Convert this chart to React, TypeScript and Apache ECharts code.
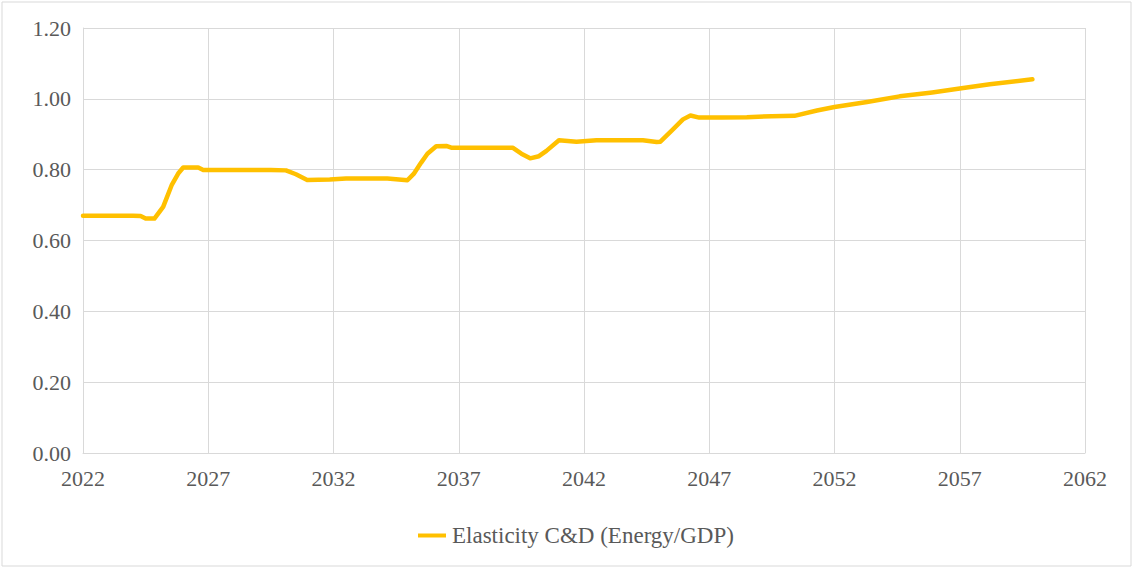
import React, { useEffect, useRef } from "react";
import * as echarts from "echarts";

const years = [
  2022, 2023, 2024, 2024.3, 2024.5, 2024.85, 2025.2, 2025.55, 2025.8, 2026.0,
  2026.6, 2026.8, 2027.5, 2028.5, 2029.5, 2030.1, 2030.5, 2030.95, 2031.85,
  2032.5, 2033.5, 2034.15, 2034.95, 2035.2, 2035.5, 2035.75, 2036.1, 2036.5,
  2036.7, 2037.5, 2038.5, 2039.15, 2039.5, 2039.85, 2040.2, 2040.5, 2041.0,
  2041.7, 2042.5, 2043.5, 2044.35, 2044.9, 2045.05, 2045.5, 2045.95, 2046.25,
  2046.6, 2047.5, 2048.5, 2049.5, 2050.4, 2051.3, 2052.0, 2053.3, 2054.6,
  2055.9, 2057.0, 2058.2, 2059.9,
];
const elasticity = [
  0.67, 0.67, 0.67, 0.669, 0.662, 0.662, 0.695, 0.758, 0.789, 0.806,
  0.806, 0.799, 0.799, 0.799, 0.799, 0.798, 0.787, 0.771, 0.772,
  0.775, 0.775, 0.775, 0.77, 0.788, 0.82, 0.845, 0.866, 0.867,
  0.862, 0.862, 0.862, 0.862, 0.845, 0.832, 0.838, 0.853, 0.883,
  0.879, 0.883, 0.883, 0.883, 0.878, 0.879, 0.91, 0.942, 0.953,
  0.947, 0.947, 0.948, 0.951, 0.952, 0.967, 0.977, 0.991, 1.007,
  1.018, 1.029, 1.041, 1.055,
];
const seriesName = "Elasticity C&D (Energy/GDP)";
const yTicks = ["0.00", "0.20", "0.40", "0.60", "0.80", "1.00", "1.20"];

const FONT = "'Liberation Serif', 'DejaVu Serif', 'Times New Roman', serif";
const TEXT = "#595959";

export default function App() {
  const ref = useRef<HTMLDivElement>(null);
  useEffect(() => {
    const chart = echarts.init(ref.current!, undefined, { renderer: "svg" });
    chart.setOption({
      animation: false,
      backgroundColor: "#fff",
      textStyle: { fontFamily: FONT },
      grid: { left: 83, right: 49, top: 28, bottom: 116 },
      graphic: [
        {
          type: "rect",
          shape: { x: 2, y: 2, width: 1129, height: 564 },
          style: { fill: "none", stroke: "#d9d9d9", lineWidth: 1 },
          silent: true,
        },
      ],
      legend: {
        data: [seriesName],
        left: 418,
        top: 524,
        padding: 0,
        itemWidth: 28,
        itemHeight: 4,
        itemGap: 6,
        icon: "rect",
        textStyle: { fontFamily: FONT, fontSize: 23, color: TEXT, padding: [0, 0, 0, 1] },
      },
      xAxis: {
        type: "value",
        min: 2022,
        max: 2062,
        interval: 5,
        axisLine: { show: true, lineStyle: { color: "#d9d9d9", width: 1 } },
        axisTick: { show: false },
        splitLine: { show: true, lineStyle: { color: "#d9d9d9", width: 1 } },
        axisLabel: {
          fontFamily: FONT,
          fontSize: 22,
          color: TEXT,
          margin: 14,
          formatter: (v: number) => String(v),
        },
      },
      yAxis: {
        type: "value",
        min: 0,
        max: 1.2,
        interval: 0.2,
        axisLine: { show: true, lineStyle: { color: "#d9d9d9", width: 1 } },
        axisTick: { show: false },
        splitLine: { show: true, lineStyle: { color: "#d9d9d9", width: 1 } },
        axisLabel: {
          fontFamily: FONT,
          fontSize: 22,
          color: TEXT,
          margin: 12,
          formatter: (v: number) => yTicks[Math.round(v / 0.2)] ?? v.toFixed(2),
        },
      },
      series: [
        {
          name: seriesName,
          type: "line",
          data: years.map((y, i) => [y, elasticity[i]]),
          showSymbol: false,
          symbol: "none",
          lineStyle: { color: "#FFC000", width: 4.5, join: "round", cap: "round" },
          itemStyle: { color: "#FFC000" },
        },
      ],
    });
    return () => chart.dispose();
  }, []);
  return <div ref={ref} style={{ width: 1134, height: 569, position: "absolute", left: 0, top: 0 }} />;
}
